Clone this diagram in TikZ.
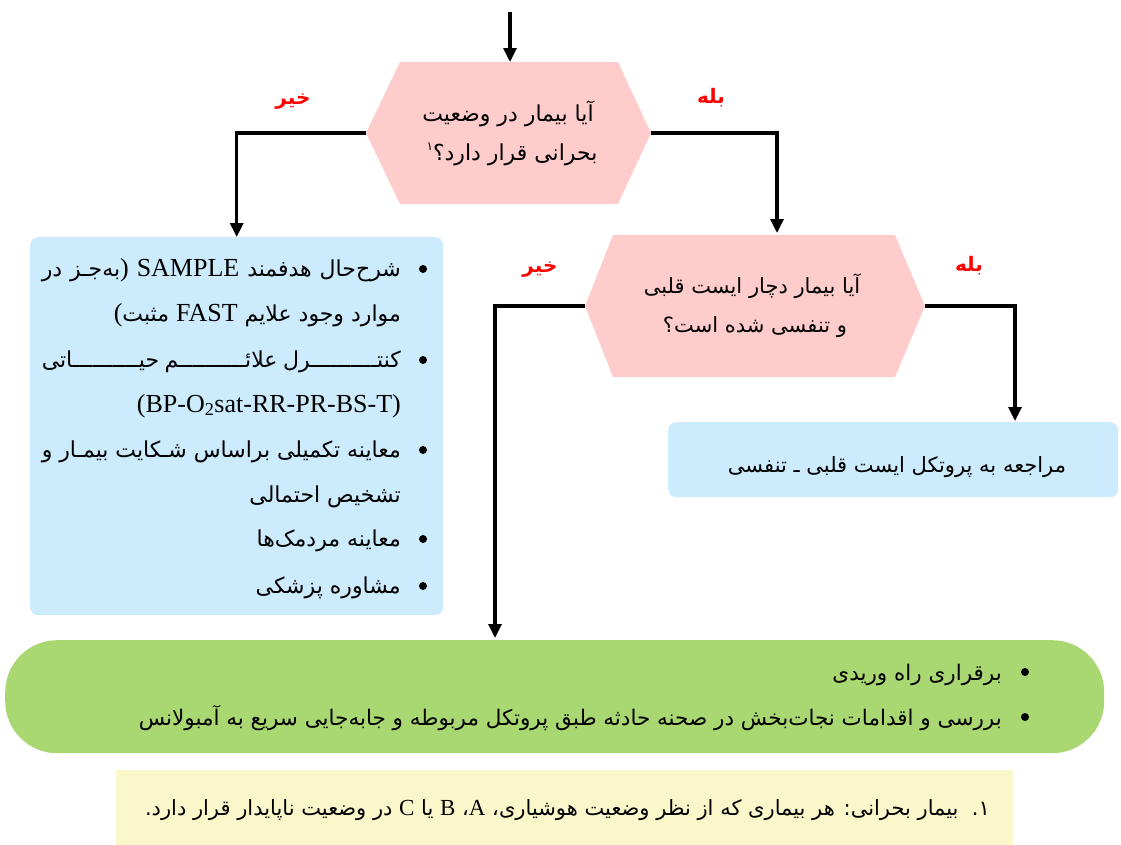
\documentclass[tikz,border=0pt]{standalone}
\usepackage{fontspec}
\setmainfont{Liberation Serif}
\newfontfamily\fa[Script=Arabic]{DejaVu Sans}
\newfontfamily\lat{Liberation Serif}
\TeXXeTstate=1
\usetikzlibrary{arrows.meta}
\definecolor{hexpink}{RGB}{255,204,204}
\definecolor{boxblue}{RGB}{204,235,252}
\definecolor{boxgreen}{RGB}{169,216,114}
\definecolor{noteyel}{RGB}{250,248,202}
\definecolor{lblred}{RGB}{255,0,0}
\newcommand\jline[2]{\hbox to #1{\spaceskip=.25em plus 1fil\xspaceskip=\spaceskip\relax #2}}
\newcommand\LT[1]{\beginL{\lat\fontsize{26}{28}\selectfont #1}\endL}
\newcommand\LTs[1]{\beginL{\lat\fontsize{23}{26}\selectfont #1}\endL}
\newcommand\kash{\xleaders\hbox{ـ}\hfill}
\tikzset{
  conn/.style={line width=3.2pt, -{Triangle[length=14pt,width=13pt]}},
  hexfill/.style={fill=hexpink},
  bluebox/.style={fill=boxblue, rounded corners=8pt, inner sep=0pt, anchor=north west},
  qtext/.style={font=\fa\fontsize{21}{24}\selectfont, inner sep=0pt, anchor=base},
  ltext/.style={font=\fa\fontsize{22}{24}\selectfont, inner sep=0pt, anchor=base east},
  gtext/.style={font=\fa\fontsize{21.5}{24}\selectfont, inner sep=0pt, anchor=base east},
  ntext/.style={font=\fa\fontsize{21}{24}\selectfont, inner sep=0pt, anchor=base east},
  lbl/.style={font=\fa\bfseries\fontsize{20}{22}\selectfont, text=lblred, inner sep=0pt, anchor=base},
  dot/.style={circle, fill=black, inner sep=0pt, minimum size=8pt},
}
\begin{document}
\begin{tikzpicture}[x=1pt,y=-1pt]
\useasboundingbox (0,0) rectangle (1121,844);
% boxes
\node[bluebox, minimum width=413pt, minimum height=378pt] (b1) at (30,237) {};
\node[bluebox, minimum width=450pt, minimum height=75pt] (b2) at (668,422) {};
\node[fill=boxgreen, rounded corners=52pt, inner sep=0pt, anchor=north west, minimum width=1099pt, minimum height=113pt] (g) at (5,640) {};
\node[fill=noteyel, inner sep=0pt, anchor=north west, minimum width=897pt, minimum height=80pt] (n) at (116,770) {};
% hexagons
\fill[hexfill] (366,133) -- (400,62) -- (618,62) -- (651,133) -- (618,204) -- (400,204) -- cycle;
\fill[hexfill] (585,306) -- (613,235) -- (895,235) -- (925,306) -- (895,377) -- (613,377) -- cycle;
\coordinate (start) at (510,12);
\coordinate (h1N) at (510,62);
\coordinate (h1W) at (366,133);
\coordinate (h1E) at (651,133);
\coordinate (h2N) at (777,233);
\coordinate (h2W) at (585,306);
\coordinate (h2E) at (925,306);
\coordinate (b2in) at (1015,421);
\coordinate (gin) at (495,638);
% connectors
\draw[conn] (start) -- (h1N);
\draw[conn] (h1W) -| (b1.north);
\draw[conn] (h1E) -| (h2N);
\draw[conn] (h2E) -| (b2in);
\draw[conn] (h2W) -| (gin);
% labels
\node[lbl] (no1) at (293,104) {\beginR خیر\endR};
\node[lbl] (yes1) at (711,103) {\beginR بله\endR};
\node[lbl] (no2) at (540,272) {\beginR خیر\endR};
\node[lbl] (yes2) at (969,271) {\beginR بله\endR};
% question texts
\node[qtext, font=\fa\fontsize{22}{24}\selectfont] (q1a) at (508,121) {\beginR آیا بیمار در وضعیت\endR};
\node[qtext, font=\fa\fontsize{22}{24}\selectfont] (q1b) at (512,160) {\beginR بحرانی قرار دارد؟\raisebox{10pt}{\fontsize{12}{12}\selectfont ۱}\endR};
\node[qtext] (q2a) at (752,293) {\beginR آیا بیمار دچار ایست قلبی\endR};
\node[qtext] (q2b) at (755,332) {\beginR و تنفسی شده است؟\endR};
\node[qtext] (r2) at (897,472) {\beginR مراجعه به پروتکل ایست قلبی ـ تنفسی\endR};
% blue list
\node[ltext] (l1) at (401,276) {\jline{359pt}{\beginR شرح‌حال هدفمند \LT{SAMPLE} \LT{)}به‌جـز در\endR}};
\node[ltext] (l2) at (401,321) {\beginR موارد وجود علایم \LT{FAST} مثبت\LT{(}\endR};
\node[ltext] (l3) at (401,367) {\jline{359pt}{\beginR کنت‍\kash‍رل علائ‍\kash‍م حی‍\kash‍اتی\endR}};
\node[ltext, font=\lat\fontsize{26}{28}\selectfont] (l4) at (401,412) {(BP-O\textsubscript{2}sat-RR-PR-BS-T)};
\node[ltext] (l5) at (401,457) {\jline{359pt}{\beginR معاینه تکمیلی براساس شـکایت بیمـار و\endR}};
\node[ltext] (l6) at (401,502) {\beginR تشخیص احتمالی\endR};
\node[ltext] (l7) at (401,546) {\beginR معاینه مردمک‌ها\endR};
\node[ltext] (l8) at (401,593) {\beginR مشاوره پزشکی\endR};
\node[dot] (d1) at (423,269) {};
\node[dot] (d3) at (423,360) {};
\node[dot] (d5) at (423,450) {};
\node[dot] (d7) at (423,539) {};
\node[dot] (d8) at (423,586) {};
% green list
\node[gtext] (g1) at (1002,680) {\beginR برقراری راه وریدی\endR};
\node[gtext] (g2) at (1002,725) {\beginR بررسی و اقدامات نجات‌بخش در صحنه حادثه طبق پروتکل مربوطه و جابه‌جایی سریع به آمبولانس\endR};
\node[dot] (gd1) at (1025,672) {};
\node[dot] (gd2) at (1025,717) {};
% note
\node[ntext] (nt) at (990,815) {\beginR ۱.\ \ بیمار بحرانی: هر بیماری که از نظر وضعیت هوشیاری، \LTs{A}، \LTs{B} یا \LTs{C} در وضعیت ناپایدار قرار دارد.\endR};
\end{tikzpicture}
\end{document}
